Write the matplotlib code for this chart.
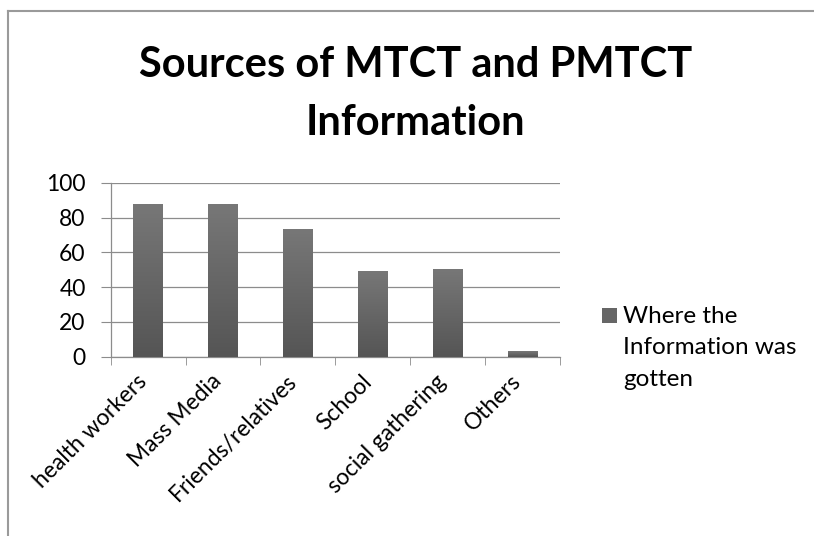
import numpy as np
import matplotlib as mpl
from matplotlib import pyplot as plt
from matplotlib.lines import Line2D
from matplotlib.patches import Rectangle
from matplotlib.transforms import ScaledTranslation

mpl.rcParams['font.family'] = ['Lato', 'DejaVu Sans']

# fuentes de informacion
categorias = ['health workers', 'Mass Media', 'Friends/relatives',
              'School', 'social gathering', 'Others']
valores = [87.5, 87.5, 73.3, 49.2, 50.4, 3.3]
serie = 'Where the\nInformation was\ngotten'
titulo = ['Sources of MTCT and PMTCT', 'Information']
yticks = [0, 20, 40, 60, 80, 100]


def main():
    fig = plt.figure(figsize=(8.14, 5.36), dpi=100)
    ax = fig.add_axes([0.136, 0.3345, 0.552, 0.3245])

    x = np.arange(len(categorias))
    bars = ax.bar(x, valores, width=0.4, color='#636363', zorder=3)

    # degradado vertical en cada barra
    grad = np.linspace(0, 1, 100).reshape(-1, 1)
    cmap = mpl.colors.LinearSegmentedColormap.from_list('g', ['#555555', '#777777'])
    for b in bars:
        x0, w, h = b.get_x(), b.get_width(), b.get_height()
        ax.imshow(grad, extent=(x0, x0 + w, 0, h), origin='lower',
                  cmap=cmap, aspect='auto', zorder=4)

    ax.set_xlim(-0.5, len(categorias) - 0.5)
    ax.set_ylim(0, 100)
    ax.set_yticks(yticks)
    ax.set_yticklabels([str(v) for v in yticks], fontsize=16.5)
    ax.set_xticks(x)
    ax.set_xticklabels(categorias, rotation=45, ha='right',
                       rotation_mode='anchor', fontsize=16.5)
    ax.tick_params(axis='x', length=0, pad=10)
    # correr las etiquetas un poco a la izquierda
    off = ScaledTranslation(-12 / 100, 0, fig.dpi_scale_trans)
    for lbl in ax.get_xticklabels():
        lbl.set_transform(lbl.get_transform() + off)
    ax.set_xticks(np.arange(-0.5, len(categorias)), minor=True)
    ax.tick_params(axis='x', which='minor', length=6, color='#8c8c8c')
    ax.tick_params(axis='y', length=7, color='#8c8c8c', pad=11)

    ax.grid(axis='y', color='#8c8c8c', linewidth=0.9, zorder=0)
    for s in ['top', 'right']:
        ax.spines[s].set_visible(False)
    for s in ['left', 'bottom']:
        ax.spines[s].set_color('#8c8c8c')
        ax.spines[s].set_linewidth(0.9)

    fig.text(0.51, 1 - 77 / 536, titulo[0], ha='center', va='baseline',
             fontsize=30, fontweight='bold')
    fig.text(0.51, 1 - 135 / 536, titulo[1], ha='center', va='baseline',
             fontsize=30, fontweight='bold')

    # leyenda manual
    fig.patches.append(Rectangle((602 / 814, 1 - 323 / 536), 15 / 814, 15 / 536,
                                 transform=fig.transFigure,
                                 facecolor='#666666', edgecolor='none'))
    for i, linea in enumerate(serie.split('\n')):
        fig.text(623 / 814, 1 - (323 + 31.5 * i) / 536, linea, ha='left',
                 va='baseline', fontsize=17.5)

    # borde del grafico (izquierda y arriba)
    fig.lines.append(Line2D([8 / 814, 8 / 814], [0, 1 - 11 / 536],
                            transform=fig.transFigure, color='#9a9a9a', lw=1.5))
    fig.lines.append(Line2D([8 / 814, 1], [1 - 11 / 536, 1 - 11 / 536],
                            transform=fig.transFigure, color='#9a9a9a', lw=1.5))

    fig.savefig('out.png', dpi=100)


if __name__ == '__main__':
    main()
